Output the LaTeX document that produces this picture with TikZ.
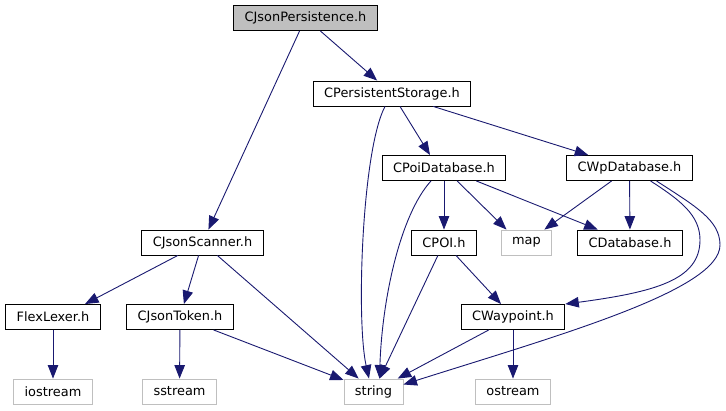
\documentclass[tikz,border=0pt]{standalone}
\usepackage{fontspec}
\setmainfont{DejaVu Sans}
\usepackage{xcolor}
\usetikzlibrary{arrows.meta}
\definecolor{edgeBlue}{HTML}{191970}
\definecolor{greyLight}{HTML}{BFBFBF}
\tikzset{
  incfile/.style={draw=black, fill=white, line width=0.9pt, inner xsep=11pt, inner ysep=2pt,
                  minimum height=25pt, font=\fontsize{12.9}{15}\selectfont},
  rootfile/.style={incfile, fill=greyLight},
  sysfile/.style={incfile, draw=greyLight},
  dep/.style={draw=edgeBlue, line width=0.9pt, -{Triangle[length=13.5pt,width=10.5pt]}}
}
\begin{document}
\begin{tikzpicture}[x=1pt,y=-1pt]
  \useasboundingbox (0,0) rectangle (726,411);
  % headers
  \node[rootfile] (jsonpers) at (305.5,18) {CJsonPersistence.h};
  \node[incfile] (persstore) at (392,93.5) {CPersistentStorage.h};
  \node[incfile] (poidb) at (444,168) {CPoiDatabase.h};
  \node[incfile] (wpdb) at (629.5,168) {CWpDatabase.h};
  \node[incfile] (scanner) at (202.5,242.5) {CJsonScanner.h};
  \node[incfile] (poi) at (444,242.5) {CPOI.h};
  \node[sysfile] (map) at (526.5,242.5) {map};
  \node[incfile] (database) at (630,242.5) {CDatabase.h};
  \node[incfile] (flexlexer) at (53,317) {FlexLexer.h};
  \node[incfile] (token) at (180,317) {CJsonToken.h};
  \node[incfile] (waypoint) at (513,317) {CWaypoint.h};
  \node[sysfile] (iostream) at (53,391.5) {iostream};
  \node[sysfile] (sstream) at (179.5,391.5) {sstream};
  \node[sysfile] (string) at (373.5,391.5) {string};
  \node[sysfile] (ostream) at (513,391.5) {ostream};
  % includes
  \draw[dep] (jsonpers) -- (persstore);
  \draw[dep] (jsonpers) -- (scanner);
  \draw[dep] ([xshift=-7pt]persstore.south) .. controls (362,150) and (356,320) .. ([xshift=-4.5pt]string.north);
  \draw[dep] (persstore) -- ([xshift=-14pt]poidb.north);
  \draw[dep] (persstore) -- (wpdb);
  \draw[dep] ([xshift=-13pt]poidb.south) .. controls (400,215) and (382,300) .. ([xshift=6pt]string.north);
  \draw[dep] (poidb) -- (poi);
  \draw[dep] (poidb) -- ([xshift=-20pt]map.north);
  \draw[dep] (poidb) -- (database);
  \draw[dep] (wpdb) -- (map);
  \draw[dep] (wpdb) -- (database);
  \draw[dep] ([xshift=21pt]wpdb.south) .. controls (680,200) and (700,215) .. (700,240)
             .. controls (700,280) and (655,292) .. (waypoint.north east);
  \draw[dep] ([xshift=27pt]wpdb.south) .. controls (695,206) and (720,220) .. (720,245)
             .. controls (720,290) and (560,335) .. ([yshift=7pt]string.east);
  \draw[dep] (poi) -- (string);
  \draw[dep] (poi) -- (waypoint);
  \draw[dep] (waypoint) -- (string);
  \draw[dep] (waypoint) -- (ostream);
  \draw[dep] (scanner) -- ([xshift=32pt]flexlexer.north);
  \draw[dep] (scanner) -- (token);
  \draw[dep] (scanner) -- (string);
  \draw[dep] (flexlexer) -- (iostream);
  \draw[dep] (token) -- (sstream);
  \draw[dep] (token) -- (string);
\end{tikzpicture}
\end{document}
